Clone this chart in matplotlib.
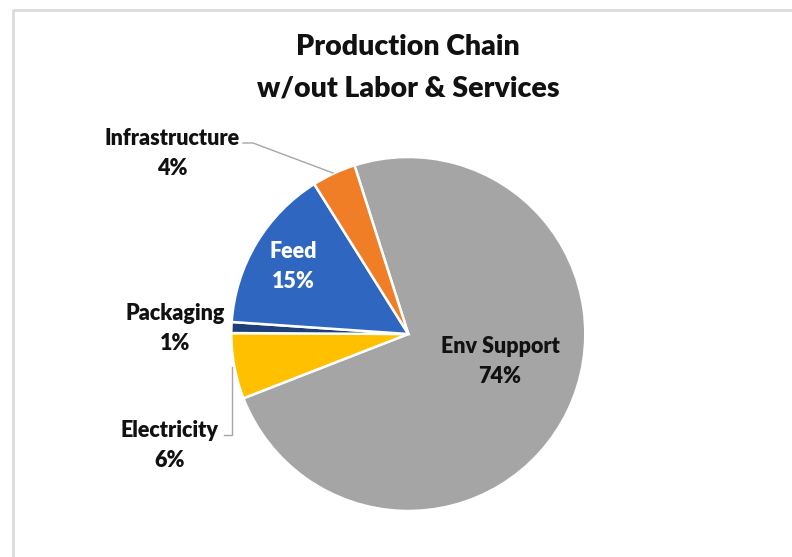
import matplotlib
matplotlib.use("Agg")
import matplotlib.pyplot as plt
import numpy as np

# slices in drawing order (clockwise from the first slice edge)
names = ["Env Support", "Electricity", "Packaging", "Feed", "Infrastructure"]
shares = [74, 6, 1, 15, 4]
colors = ["#A5A5A5", "#FFC000", "#1F3F7A", "#2E66C0", "#F07E26"]

title = "Production Chain\nw/out Labor & Services"

W, H = 792, 557
plt.rcParams['font.family'] = ['Lato', 'DejaVu Sans']

fig = plt.figure(figsize=(W / 100, H / 100), dpi=100)
ax = fig.add_axes([0, 0, 1, 1])

cx, cy, r = 408.3, H - 334, 177
wedges, _ = ax.pie(shares, colors=colors, startangle=107.7, counterclock=False,
                   center=(cx, cy), radius=r,
                   wedgeprops=dict(edgecolor="white", linewidth=1.8))

ax.set_xlim(0, W)
ax.set_ylim(0, H)
ax.set_aspect("equal")
ax.axis("off")

# light frame around the chart area
ax.plot([13, 13, W], [0, H - 10, H - 10], color="#DCDCDC", lw=2, solid_capstyle="butt")

ax.text(cx, H - 67.5, title, ha="center", va="center", fontsize=20.5,
        fontweight="heavy", color="#111111", linespacing=1.75)

lab = {n: f"{n}\n{v}%" for n, v in zip(names, shares)}
kw = dict(ha="center", va="center", fontsize=15.5, fontweight="heavy", linespacing=1.55)

ax.text(500, H - 361.5, lab["Env Support"], color="#111111", **kw)
ax.text(293, H - 266.5, lab["Feed"], color="white", **kw)
ax.text(172, H - 153.5, lab["Infrastructure"], color="#111111", **kw)
ax.text(175, H - 328.5, lab["Packaging"], color="#111111", **kw)
ax.text(170, H - 445.5, lab["Electricity"], color="#111111", **kw)

# leader lines for the outside labels
lc = "#A6A6A6"
ax.plot([243, 253, 333], [H - 143, H - 143, H - 173], color=lc, lw=1)
ax.plot([224, 232, 232], [H - 435, H - 435, H - 367], color=lc, lw=1)

fig.savefig("out.png", dpi=100, facecolor="white")
